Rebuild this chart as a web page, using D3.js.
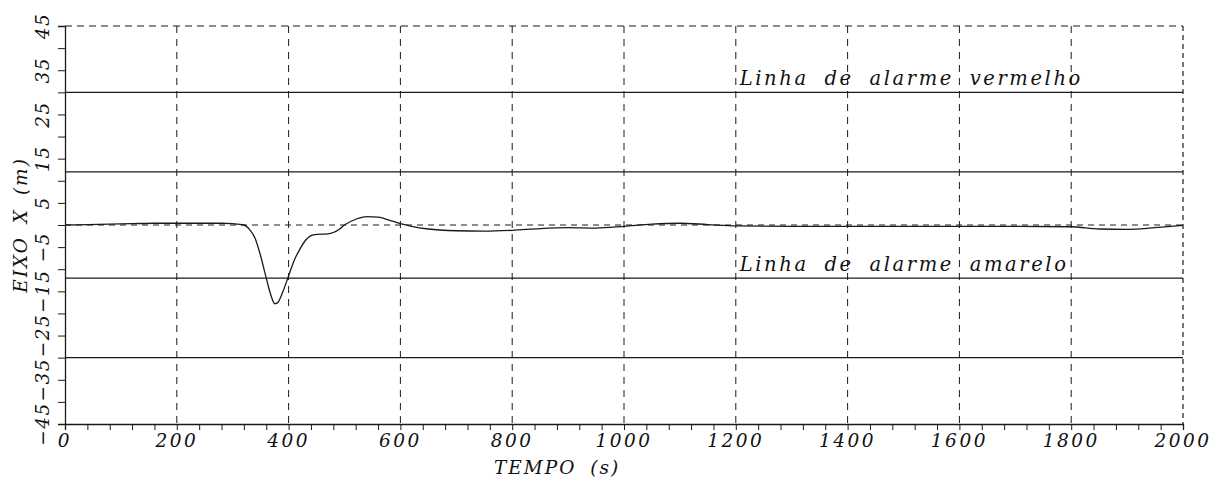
<!DOCTYPE html>
<html><head><meta charset="utf-8">
<script src="https://cdn.jsdelivr.net/npm/d3@7/dist/d3.min.js"></script>
<style>body{margin:0;background:#fff;} svg{display:block;} text{font-family:"DejaVu Serif","Liberation Serif",serif;font-style:italic;fill:#111;}</style>
</head><body><svg id="c" width="1225" height="492"></svg>
<script>
// Data
const tempo = [0,40,80,120,160,200,240,280,300,320,330,340,350,360,370,375,380,390,400,410,420,430,440,450,470,480,490,500,520,540,560,580,600,620,650,700,750,800,850,900,950,1000,1050,1100,1150,1200,1300,1400,1500,1600,1700,1800,1850,1900,1950,2000];
const eixoX = [0,0.1,0.2,0.3,0.4,0.4,0.4,0.4,0.3,0,-1,-3,-7,-12,-16.5,-17.8,-17.6,-15,-11.5,-8,-5.5,-3.5,-2.4,-2.1,-2,-1.7,-1,0,1.3,1.9,1.8,1.1,0.3,-0.3,-0.9,-1.3,-1.4,-1.2,-0.8,-0.6,-0.7,-0.3,0.2,0.4,0.1,-0.2,-0.3,-0.3,-0.3,-0.3,-0.3,-0.4,-0.9,-1,-0.6,-0.1];
const xTicks = [0,200,400,600,800,1000,1200,1400,1600,1800,2000];
const yTicks = [45,35,25,15,5,-5,-15,-25,-35,-45];
const alarmLevels = [30,12,-12,-30];
const alarmLabels = [{v:30,t:"Linha de alarme vermelho"},{v:-12,t:"Linha de alarme amarelo"}];

const svg = d3.select("#c");
const X0=65, X1=1183, Y0=26, Y1=424;
const x = d3.scaleLinear().domain([0,2000]).range([X0,X1]);
const y = d3.scaleLinear().domain([-45,45]).range([Y1,Y0]);
const ink="#1a1a1a";

// vertical dashed gridlines
svg.append("g").selectAll("line").data(xTicks.filter(d=>d>0 && d<2000)).join("line")
  .attr("x1",d=>x(d)).attr("x2",d=>x(d)).attr("y1",Y0).attr("y2",Y1)
  .attr("stroke",ink).attr("stroke-width",1).attr("stroke-dasharray","7,6");
// zero dashed gridline
svg.append("line").attr("x1",X0).attr("x2",X1).attr("y1",y(0)).attr("y2",y(0))
  .attr("stroke",ink).attr("stroke-width",1).attr("stroke-dasharray","6,5");
// top & right frame dashed
svg.append("line").attr("x1",X0).attr("x2",X1).attr("y1",Y0).attr("y2",Y0)
  .attr("stroke",ink).attr("stroke-width",1.2).attr("stroke-dasharray","7,5");
svg.append("line").attr("x1",X1).attr("x2",X1).attr("y1",Y0).attr("y2",Y1)
  .attr("stroke",ink).attr("stroke-width",1.2).attr("stroke-dasharray","5,4");

// alarm lines
svg.append("g").selectAll("line").data(alarmLevels).join("line")
  .attr("x1",X0).attr("x2",X1).attr("y1",d=>y(d)).attr("y2",d=>y(d))
  .attr("stroke",ink).attr("stroke-width",1.2);
svg.append("g").selectAll("text").data(alarmLabels).join("text")
  .attr("x",x(1207)).attr("y",d=>y(d.v)-7)
  .attr("font-size",19.5).attr("letter-spacing",2.6).attr("word-spacing",7).text(d=>d.t);

// axes
const xAxis = d3.axisBottom(x).tickValues(d3.range(0,2001,40)).tickSize(6).tickFormat("");
const gx = svg.append("g").attr("transform",`translate(0,${Y1})`).call(xAxis);
gx.select(".domain").attr("stroke",ink).attr("stroke-width",1.3);
gx.selectAll(".tick line").attr("stroke",ink);
svg.append("g").selectAll("text").data(xTicks).join("text")
  .attr("x",d=>x(d)).attr("y",Y1+23).attr("text-anchor","middle")
  .attr("font-size",18.5).attr("letter-spacing",2.5).text(d=>d);

const yAxis = d3.axisLeft(y).tickValues(d3.range(-45,46,5)).tickSize(7).tickFormat("");
const gy = svg.append("g").attr("transform",`translate(${X0},0)`).call(yAxis);
gy.select(".domain").attr("stroke",ink).attr("stroke-width",1.3);
gy.selectAll(".tick line").attr("stroke",ink);
svg.append("g").selectAll("text").data(yTicks).join("text")
  .attr("transform",d=>`translate(49,${y(d)}) rotate(-90)`).attr("text-anchor","middle")
  .attr("font-size",18.5).attr("letter-spacing",1.5).text(d=>d<0?"\u2212"+Math.abs(d):d);

// axis titles
svg.append("text").attr("x",557).attr("y",474).attr("text-anchor","middle")
  .attr("font-size",18.5).attr("letter-spacing",2).attr("word-spacing",6).text("TEMPO (s)");
svg.append("text").attr("transform",`translate(27,${y(0)}) rotate(-90)`).attr("text-anchor","middle")
  .attr("font-size",18.5).attr("letter-spacing",2).attr("word-spacing",5).text("EIXO X (m)");

// curve
const pts = tempo.map((t,i)=>[t,eixoX[i]]);
svg.append("path").datum(pts)
  .attr("d",d3.line().x(d=>x(d[0])).y(d=>y(d[1])).curve(d3.curveMonotoneX))
  .attr("fill","none").attr("stroke",ink).attr("stroke-width",1.3);
</script></body></html>
